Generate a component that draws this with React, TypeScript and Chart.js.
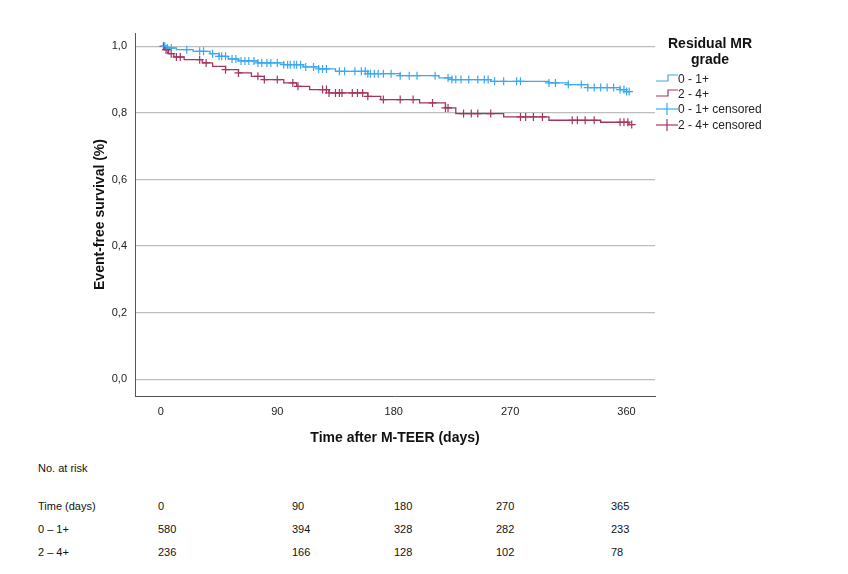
import React, { useEffect, useRef } from "react";
import { Chart, registerables } from "chart.js";
Chart.register(...registerables);

const blueSteps: [number, number][] = [
  [0, 1.0], [5, 0.995], [12, 0.99], [25, 0.985], [38, 0.978], [45, 0.97], [52, 0.962], [60, 0.956], [75, 0.95], [95, 0.945], [110, 0.938], [122, 0.932], [135, 0.925], [160, 0.918], [185, 0.912], [215, 0.905], [225, 0.9], [255, 0.895], [300, 0.89], [315, 0.885], [330, 0.876], [355, 0.87], [360, 0.864], [363, 0.864],
];
const redSteps: [number, number][] = [
  [0, 1.0], [3, 0.99], [6, 0.978], [10, 0.968], [18, 0.96], [32, 0.95], [40, 0.94], [50, 0.93], [60, 0.92], [70, 0.91], [80, 0.9], [95, 0.89], [105, 0.88], [115, 0.87], [130, 0.86], [160, 0.85], [170, 0.84], [200, 0.83], [220, 0.815], [228, 0.798], [265, 0.788], [300, 0.778], [340, 0.772], [362, 0.765], [365, 0.765],
];
const blueCensored = [3, 5, 8, 20, 30, 33, 40, 45, 47, 50, 55, 58, 62, 65, 68, 72, 75, 78, 82, 85, 90, 95, 98, 100, 103, 105, 108, 112, 118, 122, 125, 128, 138, 142, 150, 155, 158, 160, 162, 165, 168, 172, 178, 185, 192, 198, 212, 222, 225, 228, 232, 238, 245, 250, 253, 258, 265, 275, 278, 300, 305, 315, 325, 330, 335, 340, 345, 350, 355, 358, 360, 362];
const redCensored = [2, 4, 5, 8, 12, 15, 30, 35, 50, 60, 75, 80, 90, 102, 106, 125, 128, 130, 135, 138, 140, 148, 152, 156, 160, 172, 185, 195, 210, 220, 222, 234, 240, 245, 255, 278, 282, 288, 295, 318, 322, 328, 335, 355, 358, 361, 364];
const xTicks = [0, 90, 180, 270, 360];
const yTicks = [0, 0.2, 0.4, 0.6, 0.8, 1.0];
const riskTimes = ["0", "90", "180", "270", "365"];
const riskLow = ["580", "394", "328", "282", "233"];
const riskHigh = ["236", "166", "128", "102", "78"];

const BLUE = "#39A9F0";
const RED = "#A5355F";

function valueAt(steps: [number, number][], t: number) {
  let v = steps[0][1];
  for (const [x, y] of steps) if (x <= t) v = y;
  return v;
}

export default function App() {
  const ref = useRef<HTMLCanvasElement>(null);
  useEffect(() => {
    const font = { family: "Arial, 'Liberation Sans'", size: 11 };
    const chart = new Chart(ref.current!, {
      type: "line",
      data: {
        datasets: [
          { data: blueSteps.map(([x, y]) => ({ x, y })), borderColor: BLUE, borderWidth: 1.3, stepped: "before" as any, pointRadius: 0 },
          { data: redSteps.map(([x, y]) => ({ x, y })), borderColor: RED, borderWidth: 1.3, stepped: "before" as any, pointRadius: 0 },
          { data: blueCensored.map((x) => ({ x, y: valueAt(blueSteps, x) })), showLine: false, pointStyle: "cross", pointRadius: 4, borderColor: BLUE, borderWidth: 1.2 },
          { data: redCensored.map((x) => ({ x, y: valueAt(redSteps, x) })), showLine: false, pointStyle: "cross", pointRadius: 4, borderColor: RED, borderWidth: 1.2 },
        ],
      },
      options: {
        animation: false,
        responsive: false,
        layout: { padding: { left: 88, right: 193, top: 33, bottom: 9 } },
        plugins: { legend: { display: false }, tooltip: { enabled: false } },
        scales: {
          x: {
            type: "linear", min: -20, max: 382,
            afterBuildTicks: (s: any) => { s.ticks = xTicks.map((v) => ({ value: v })); },
            afterFit: (s: any) => { s.height = 55; },
            grid: { display: false, drawTicks: true, tickLength: 5 },
            border: { color: "#555" },
            ticks: { color: "#222", font, padding: 4 },
            title: { display: true, text: "Time after M-TEER (days)", color: "#111", font: { family: "Arial, 'Liberation Sans'", size: 14, weight: "bold" }, padding: { top: 4 } },
          },
          y: {
            min: -0.05, max: 1.04,
            afterBuildTicks: (s: any) => { s.ticks = yTicks.map((v) => ({ value: v })); },
            afterFit: (s: any) => { s.width = 47; },
            grid: { color: "#bdbdbd", lineWidth: 1.3, drawTicks: false },
            border: { color: "#555" },
            ticks: { color: "#222", font, padding: 8, callback: (v: any) => Number(v).toFixed(1).replace(".", ",") },
            title: { display: true, text: "Event-free survival (%)", color: "#111", font: { family: "Arial, 'Liberation Sans'", size: 14, weight: "bold" }, padding: { bottom: 0 } },
          },
        },
      },
    });
    return () => chart.destroy();
  }, []);

  const txt: React.CSSProperties = { position: "absolute", fontFamily: "Arial, 'Liberation Sans'", fontSize: 11, color: "#111" };
  const cols = [158, 292, 394, 496, 611];
  const legRow = (color: string, label: string, cross: boolean, top: number) => (
    <div style={{ position: "absolute", left: 656, top, display: "flex", alignItems: "center", fontFamily: "Arial, 'Liberation Sans'", fontSize: 12, color: "#222" }}>
      <svg width="22" height="12">
        {cross ? (
          <g stroke={color} strokeWidth="1.2"><line x1="0" y1="6" x2="22" y2="6" /><line x1="11" y1="0" x2="11" y2="12" /></g>
        ) : (
          <polyline points="0,8 12,8 12,2 22,2" fill="none" stroke={color} strokeWidth="1.2" />
        )}
      </svg>
      <span>{label}</span>
    </div>
  );
  return (
    <div style={{ position: "absolute", left: 0, top: 0, width: 848, height: 574, background: "#fff" }}>
      <canvas ref={ref} width={848} height={460} style={{ position: "absolute", left: 0, top: 0 }} />
      <div style={{ position: "absolute", left: 660, top: 35, width: 100, textAlign: "center", fontFamily: "Arial, 'Liberation Sans'", fontWeight: "bold", fontSize: 14, lineHeight: "16px", color: "#111" }}>Residual MR<br />grade</div>
      {legRow(BLUE, "0 - 1+", false, 72)}
      {legRow(RED, "2 - 4+", false, 87)}
      {legRow(BLUE, "0 - 1+ censored", true, 102)}
      {legRow(RED, "2 - 4+ censored", true, 118)}
      <div style={{ ...txt, left: 38, top: 462 }}>No. at risk</div>
      <div style={{ ...txt, left: 38, top: 500 }}>Time (days)</div>
      <div style={{ ...txt, left: 38, top: 523 }}>0 – 1+</div>
      <div style={{ ...txt, left: 38, top: 546 }}>2 – 4+</div>
      {cols.map((x, i) => (
        <React.Fragment key={i}>
          <div style={{ ...txt, left: x, top: 500 }}>{riskTimes[i]}</div>
          <div style={{ ...txt, left: x, top: 523 }}>{riskLow[i]}</div>
          <div style={{ ...txt, left: x, top: 546 }}>{riskHigh[i]}</div>
        </React.Fragment>
      ))}
    </div>
  );
}
